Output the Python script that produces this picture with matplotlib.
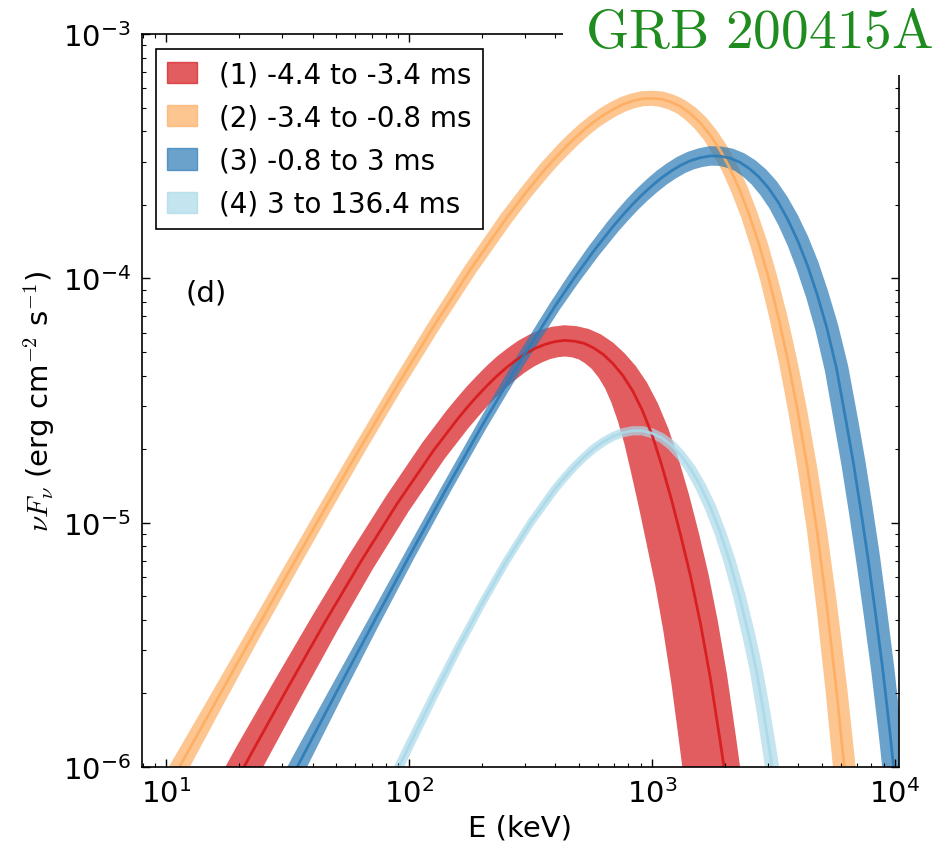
import matplotlib
matplotlib.use('Agg')
import matplotlib.pyplot as plt
import numpy as np
from matplotlib.patches import Patch, Rectangle
from matplotlib.ticker import LogLocator, FuncFormatter, NullFormatter

plt.rcParams['mathtext.fontset'] = 'cm'

labels = ['(1) -4.4 to -3.4 ms', '(2) -3.4 to -0.8 ms',
          '(3) -0.8 to 3 ms', '(4) 3 to 136.4 ms']
colors = ['#d7191c', '#fdae61', '#2c7bb6', '#abd9e9']

# best-fit curves: log10(E/keV), log10(nuFnu)
logE_1 = [1.25, 1.35, 1.5, 1.65, 1.8, 1.95, 2.1, 2.2,
          2.24, 2.28, 2.32, 2.36, 2.4, 2.44, 2.48, 2.52, 2.56, 2.6, 2.64, 2.68,
          2.72, 2.76, 2.8, 2.84, 2.88,
          2.92, 2.96, 3.0, 3.04, 3.08, 3.12, 3.16, 3.2, 3.24, 3.28, 3.32, 3.35]
logF_1 = [-6.128, -5.945, -5.676, -5.413, -5.161, -4.923, -4.705, -4.575,
          -4.527, -4.482, -4.440, -4.401, -4.366, -4.335, -4.308, -4.286, -4.270, -4.259, -4.254, -4.257,
          -4.266, -4.285, -4.312, -4.350, -4.398,
          -4.460, -4.540, -4.640, -4.765, -4.905, -5.060, -5.225, -5.415, -5.635, -5.890, -6.160, -6.370]
# half width of the 1-sigma band (dex), outer and inner side
w_hi_1 = [0.068, 0.067, 0.062, 0.058, 0.056, 0.055, 0.056, 0.057,
          0.057, 0.058, 0.058, 0.059, 0.060, 0.060, 0.061, 0.061, 0.062, 0.062, 0.062, 0.062,
          0.062, 0.063, 0.063, 0.064, 0.066,
          0.068, 0.070, 0.072, 0.074, 0.075, 0.075, 0.074, 0.072, 0.070, 0.067, 0.064, 0.063]
w_lo_1 = [0.070, 0.069, 0.066, 0.062, 0.058, 0.057, 0.057, 0.058,
          0.059, 0.059, 0.060, 0.061, 0.062, 0.062, 0.063, 0.064, 0.064, 0.065, 0.066, 0.067,
          0.069, 0.072, 0.076, 0.082, 0.090,
          0.100, 0.110, 0.120, 0.130, 0.138, 0.145, 0.150, 0.156, 0.162, 0.168, 0.174, 0.177]

logE_2 = [0.95, 1.05, 1.2, 1.35, 1.5, 1.65, 1.8, 1.95, 2.1, 2.25, 2.4,
          2.48, 2.56, 2.6, 2.64, 2.68, 2.72, 2.76, 2.8, 2.84, 2.88, 2.92, 2.96, 3.0,
          3.04, 3.08, 3.12, 3.16, 3.2, 3.24, 3.28, 3.32, 3.36, 3.4, 3.44, 3.48,
          3.52, 3.56, 3.6, 3.64, 3.68, 3.72, 3.76, 3.8, 3.83]
logF_2 = [-6.186, -6.007, -5.740, -5.473, -5.209, -4.948, -4.691, -4.440, -4.198, -3.967, -3.754,
          -3.650, -3.553, -3.509, -3.467, -3.428, -3.392, -3.360, -3.332, -3.308, -3.288, -3.274, -3.265, -3.263,
          -3.267, -3.279, -3.298, -3.327, -3.365, -3.414, -3.475, -3.548, -3.636, -3.739, -3.859, -3.998,
          -4.157, -4.338, -4.544, -4.776, -5.038, -5.345, -5.690, -6.080, -6.400]
w_2 = [0.040, 0.038, 0.033, 0.029, 0.027, 0.026, 0.025, 0.025, 0.026, 0.027, 0.028,
       0.028, 0.029, 0.029, 0.030, 0.030, 0.030, 0.030, 0.031, 0.031, 0.031, 0.031, 0.031, 0.031,
       0.032, 0.032, 0.032, 0.033, 0.033, 0.033, 0.034, 0.034, 0.035, 0.035, 0.036, 0.036,
       0.037, 0.038, 0.039, 0.040, 0.041, 0.043, 0.045, 0.047, 0.049]

logE_3 = [1.45, 1.55, 1.7, 1.85, 2.0, 2.15, 2.3, 2.45, 2.6,
          2.68, 2.76, 2.84, 2.88, 2.92, 2.96, 3.0,
          3.04, 3.08, 3.12, 3.16, 3.2, 3.24, 3.28, 3.32, 3.36, 3.4, 3.44, 3.48, 3.52, 3.56,
          3.6, 3.64, 3.68, 3.72,
          3.76, 3.8, 3.83, 3.86, 3.89, 3.92, 3.95, 3.98, 4.01, 4.04]
logF_3 = [-6.169, -5.979, -5.695, -5.415, -5.138, -4.867, -4.603, -4.351, -4.115,
          -3.998, -3.888, -3.787, -3.741, -3.697, -3.657, -3.621,
          -3.588, -3.560, -3.536, -3.518, -3.506, -3.499, -3.500, -3.508, -3.524, -3.550, -3.585, -3.631, -3.689, -3.761,
          -3.846, -3.947, -4.066, -4.203,
          -4.37, -4.59, -4.76, -4.95, -5.15, -5.37, -5.60, -5.86, -6.15, -6.45]
w_3 = [0.038, 0.036, 0.030, 0.025, 0.022, 0.021, 0.021, 0.022, 0.024,
       0.026, 0.028, 0.030, 0.031, 0.032, 0.033, 0.034,
       0.035, 0.036, 0.037, 0.038, 0.039, 0.040, 0.040, 0.041, 0.041, 0.042, 0.043, 0.044, 0.044, 0.045,
       0.046, 0.047, 0.047, 0.048,
       0.049, 0.050, 0.050, 0.050, 0.050, 0.049, 0.048, 0.047, 0.046, 0.046]

logE_4 = [1.9, 2.0, 2.1, 2.2, 2.3, 2.4, 2.5, 2.6,
          2.64, 2.68, 2.72, 2.76, 2.8, 2.84, 2.88, 2.92, 2.96, 3.0,
          3.04, 3.08, 3.12, 3.16, 3.2, 3.24, 3.28, 3.32, 3.36, 3.4,
          3.43, 3.46, 3.49, 3.52, 3.55]
logF_4 = [-6.122, -5.913, -5.711, -5.516, -5.331, -5.158, -5.001, -4.863,
          -4.815, -4.771, -4.732, -4.697, -4.669, -4.647, -4.632, -4.624, -4.624, -4.634,
          -4.653, -4.683, -4.726, -4.781, -4.851, -4.936, -5.038, -5.159, -5.301, -5.467,
          -5.606, -5.78, -5.97, -6.17, -6.38]
w_4 = [0.020, 0.019, 0.018, 0.017, 0.016, 0.016, 0.016, 0.017,
       0.017, 0.017, 0.017, 0.018, 0.018, 0.018, 0.019, 0.019, 0.019, 0.020,
       0.020, 0.021, 0.021, 0.022, 0.023, 0.024, 0.024, 0.025, 0.026, 0.027,
       0.027, 0.028, 0.029, 0.030, 0.030]

curves = [(logE_1, logF_1, w_hi_1, w_lo_1),
          (logE_2, logF_2, w_2, w_2),
          (logE_3, logF_3, w_3, w_3),
          (logE_4, logF_4, w_4, w_4)]


def band(le, lf, w_hi, w_lo):
    # offset the curve along its normal (log-log space) by the band half widths
    le, lf = np.asarray(le), np.asarray(lf)
    w_hi, w_lo = np.asarray(w_hi), np.asarray(w_lo)
    dx, dy = np.gradient(le), np.gradient(lf)
    nrm = np.hypot(dx, dy)
    nx, ny = -dy / nrm, dx / nrm
    xs = np.concatenate([le + w_hi * nx, (le - w_lo * nx)[::-1]])
    ys = np.concatenate([lf + w_hi * ny, (lf - w_lo * ny)[::-1]])
    return 10 ** xs, 10 ** ys


fig = plt.figure(figsize=(9.49, 8.53), dpi=100)
ax = fig.add_axes([142 / 949, 1 - 768 / 853, 757 / 949, 733 / 853])

for (le, lf, wh, wl), c in zip(curves, colors):
    bx, by = band(le, lf, wh, wl)
    ax.fill(bx, by, color=c, alpha=0.7, lw=0)
    ax.plot(10 ** np.asarray(le), 10 ** np.asarray(lf), '-', color=c, lw=2.0, alpha=0.9,
            solid_joinstyle='round')

ax.set_xscale('log')
ax.set_yscale('log')
ax.set_xlim(10 ** 0.9, 10 ** 4.017)
ax.set_ylim(1e-6, 1e-3)

fmt = FuncFormatter(lambda v, p: r'$\mathregular{10^{%d}}$' % round(np.log10(v)))
for axis in (ax.xaxis, ax.yaxis):
    axis.set_major_locator(LogLocator(base=10))
    axis.set_minor_locator(LogLocator(base=10, subs=np.arange(2, 10)))
    axis.set_major_formatter(fmt)
    axis.set_minor_formatter(NullFormatter())

ax.tick_params(which='both', direction='in', top=True, right=True, labelsize=21)
ax.tick_params(which='major', length=6, width=1, pad=8)
ax.tick_params(which='minor', length=3, width=0.8)
for sp in ax.spines.values():
    sp.set_linewidth(1.2)

ax.set_xlabel('E (keV)', fontsize=21, labelpad=4)
ax.set_ylabel(r'$\nu F_\nu$ (erg cm$^{-2}$ s$^{-1}$)', fontsize=21, labelpad=4)

ax.text(0.085, 0.648, '(d)', transform=ax.transAxes, fontsize=21,
        ha='center', va='center')

handles = [Patch(facecolor=c, edgecolor=c, alpha=0.7) for c in colors]
leg = ax.legend(handles, labels, loc='upper left', bbox_to_anchor=(0.0185, 0.9795),
                borderaxespad=0, fontsize=20, fancybox=False, handlelength=1.08,
                handleheight=0.8, handletextpad=0.8, labelspacing=0.55,
                borderpad=0.4, framealpha=1)
leg.get_frame().set_edgecolor('black')
leg.get_frame().set_linewidth(1.2)

# white patch behind the title, as in the original figure
fig.add_artist(Rectangle((563 / 949, 1 - 76 / 853), 1, 1, transform=fig.transFigure,
                         facecolor='white', edgecolor='none', zorder=3))
fig.text(0.7998, 0.9437, r'$\mathrm{GRB\ 200415A}$', fontsize=40, color='#1e8c1e',
         ha='center', va='baseline', zorder=4)

fig.savefig('out.png', dpi=100)
